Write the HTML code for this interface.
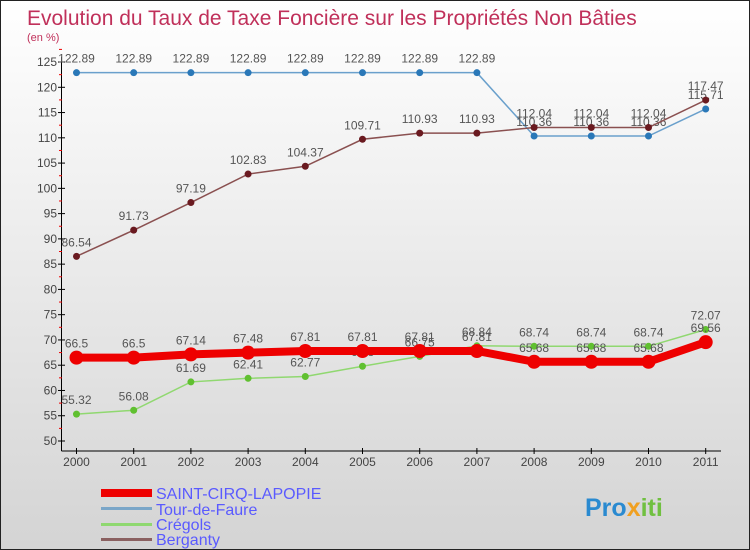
<!DOCTYPE html>
<html><head><meta charset="utf-8"><style>
body{margin:0}
#c{position:relative;width:748px;height:548px;border:1px solid #222;background:linear-gradient(#fff,#d4d4d4);font-family:"Liberation Sans","DejaVu Sans",sans-serif;overflow:hidden}
</style></head><body>
<div id="c">
<svg id="s" width="748" height="548" style="position:absolute;left:0;top:0">
<text x="26" y="24" font-size="21" fill="#c0305a">Evolution du Taux de Taxe Foncière sur les Propriétés Non Bâties</text>
<text x="26" y="40" font-size="11" fill="#c0305a">(en %)</text>
<g id="ax"></g><g id="ser"></g>
<g>
<rect x="100" y="488" width="51" height="8" fill="#e00"/>
<text x="155" y="498" font-size="16" fill="#5a5aff">SAINT-CIRQ-LAPOPIE</text>
<rect x="100" y="506" width="51" height="3" fill="#7aa6c8"/>
<text x="155" y="514" font-size="16" fill="#5a5aff">Tour-de-Faure</text>
<rect x="100" y="522" width="51" height="3" fill="#8fd870"/>
<text x="155" y="529" font-size="16" fill="#5a5aff">Crégols</text>
<rect x="100" y="537" width="51" height="3" fill="#8a6060"/>
<text x="155" y="544" font-size="16" fill="#5a5aff">Berganty</text>
</g>
<text x="584" y="515" font-size="25" font-weight="bold" fill="#2a8ad0">Pro<tspan fill="#f0a020">x</tspan><tspan fill="#70c040">iti</tspan></text>
</svg>
</div>
<script>
const years=["2000","2001","2002","2003","2004","2005","2006","2007","2008","2009","2010","2011"];
const yTicks=[50,55,60,65,70,75,80,85,90,95,100,105,110,115,120,125];
const tour=[122.89,122.89,122.89,122.89,122.89,122.89,122.89,122.89,110.36,110.36,110.36,115.71];
const berganty=[86.54,91.73,97.19,102.83,104.37,109.71,110.93,110.93,112.04,112.04,112.04,117.47];
const cregols=[55.32,56.08,61.69,62.41,62.77,64.8,66.75,68.84,68.74,68.74,68.74,72.07];
const saint=[66.5,66.5,67.14,67.48,67.81,67.81,67.81,67.81,65.68,65.68,65.68,69.56];
const NS="http://www.w3.org/2000/svg";
const X=i=>75.5+i*57.2, Y=v=>440-(v-50)*5.053;
function mk(t,a,p){const e=document.createElementNS(NS,t);for(const k in a)e.setAttribute(k,a[k]);p.appendChild(e);return e;}
const ax=document.getElementById('ax'),ser=document.getElementById('ser');
let l=mk('line',{x1:60.5,y1:56,x2:60.5,y2:450,stroke:'#000'},ax);

l=mk('line',{x1:60.5,y1:450,x2:720,y2:450,stroke:'#000'},ax);

yTicks.forEach(v=>{mk('line',{x1:57,x2:64,y1:Y(v),y2:Y(v),stroke:'#000'},ax);
 mk('line',{x1:58,x2:61,y1:Y(v+2.5),y2:Y(v+2.5),stroke:'#e00'},ax);
 const t=mk('text',{x:56,y:Y(v)+4,'font-size':12,'text-anchor':'end',fill:'#444'},ax);t.textContent=v;
 });
years.forEach((y,i)=>{mk('line',{x1:X(i),x2:X(i),y1:447,y2:453,stroke:'#000'},ax);
 const t=mk('text',{x:X(i),y:465,'font-size':12,'text-anchor':'middle',fill:'#444'},ax);t.textContent=y;
 });
function draw(d,name,col,w,r,dot){
 const p=mk('polyline',{points:d.map((v,i)=>X(i)+','+Y(v)).join(' '),fill:'none',stroke:col,'stroke-width':w},ser);
 
 d.forEach((v,i)=>{const c=mk('circle',{cx:X(i),cy:Y(v),r:r,fill:dot},ser);
  
  const t=mk('text',{x:X(i),y:Y(v)-10,'font-size':12,'text-anchor':'middle',fill:'#555'},ser);t.textContent=v;
  });
}
draw(tour,'tour-de-faure','#6aa0cc',1.5,3.5,'#2a78b8');
draw(berganty,'berganty','#8a5050',1.5,3.5,'#6a1a20');
draw(cregols,'cregols','#90d870',1.5,3.5,'#60c030');
draw(saint,'saint-cirq-lapopie','#e00',8,7,'#e00');
</script>
</body></html>
